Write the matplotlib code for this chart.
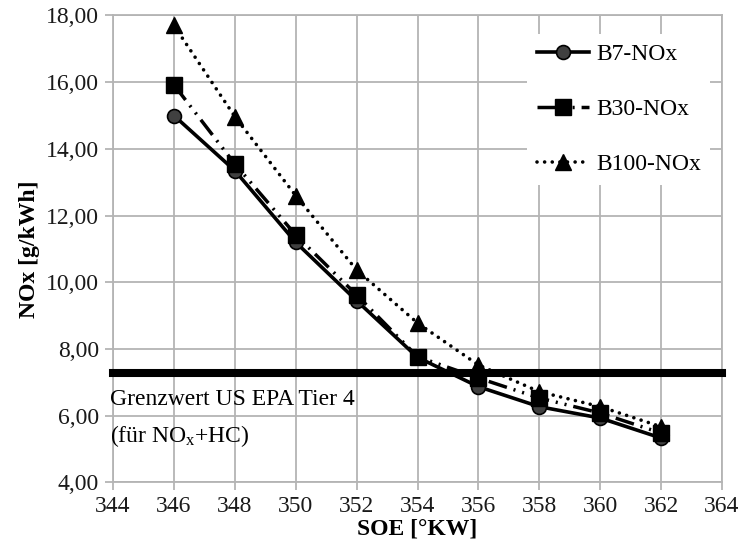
import matplotlib
matplotlib.use("Agg")
import matplotlib.pyplot as plt
from matplotlib.ticker import FuncFormatter, MultipleLocator

# ===== Data =====
soe = [346, 348, 350, 352, 354, 356, 358, 360, 362]
b7_nox = [15.00, 13.35, 11.20, 9.45, 7.75, 6.87, 6.27, 5.93, 5.33]
b30_nox = [15.92, 13.55, 11.42, 9.62, 7.77, 7.13, 6.53, 6.08, 5.48]
b100_nox = [17.70, 14.97, 12.60, 10.37, 8.78, 7.52, 6.72, 6.27, 5.67]
limit_x = [344, 364]
limit_nox = [7.27, 7.27]

plt.rcParams["font.family"] = ["Liberation Serif", "DejaVu Serif"]
plt.rcParams["mathtext.fontset"] = "custom"
plt.rcParams["mathtext.rm"] = "Liberation Serif"
plt.rcParams["mathtext.it"] = "Liberation Serif:italic"

FS = 17
GRID = "#b4b4b4"

fig = plt.figure(figsize=(7.40, 5.47), dpi=100)
ax = fig.add_axes([0.1527, 0.1181, 0.8230, 0.8536])

ax.plot(soe, b7_nox, color="black", lw=2.6, marker="o", markersize=10,
        markerfacecolor="#404040", markeredgecolor="black", markeredgewidth=1.2,
        label="B7-NOx", zorder=3)
ax.plot(soe, b30_nox, color="black", lw=2.5, marker="s", markersize=11,
        markerfacecolor="black", markeredgecolor="black",
        dashes=(5.5, 2.0, 0.6, 2.0, 0.6, 2.0), label="B30-NOx", zorder=4)
ax.plot(soe, b100_nox, color="black", lw=2.6, marker="^", markersize=11,
        markerfacecolor="black", markeredgecolor="black",
        dashes=(0.01, 2.1), dash_capstyle="round", label="B100-NOx", zorder=5)
ax.plot(limit_x, limit_nox, color="black", lw=5.8, solid_capstyle="projecting",
        clip_on=False, zorder=6)

ax.text(343.9, 6.5, "Grenzwert US EPA Tier 4", fontsize=FS, ha="left", va="center")
ax.text(343.9, 5.38, "(für NO$_\\mathregular{x}$+HC)", fontsize=FS, ha="left", va="center")

ax.set_xlim(344, 364)
ax.set_ylim(4, 18)
ax.xaxis.set_major_locator(MultipleLocator(2))
ax.yaxis.set_major_locator(MultipleLocator(2))
ax.yaxis.set_major_formatter(FuncFormatter(lambda v, _: f"{v:.2f}".replace(".", ",")))
ax.grid(True, color=GRID, lw=1.3, zorder=0)
ax.set_axisbelow(True)
for spine in ax.spines.values():
    spine.set_color(GRID)
    spine.set_linewidth(1.3)
ax.tick_params(colors=GRID, labelcolor="#1a1a1a", labelsize=FS, length=6, width=1.3, pad=4)

ax.set_xlabel("SOE [°KW]", fontsize=FS, fontweight="bold", labelpad=1)
ax.set_ylabel("NOx [g/kWh]", fontsize=FS, fontweight="bold", labelpad=4)

leg = ax.legend(loc="upper right", bbox_to_anchor=(1.0, 0.985), fontsize=FS,
                frameon=True, fancybox=False, framealpha=1, facecolor="white",
                edgecolor="none", handlelength=2.2, handletextpad=0.3,
                labelspacing=1.42, borderpad=0.4)
leg.set_zorder(7)

fig.savefig("out.png", dpi=100)
